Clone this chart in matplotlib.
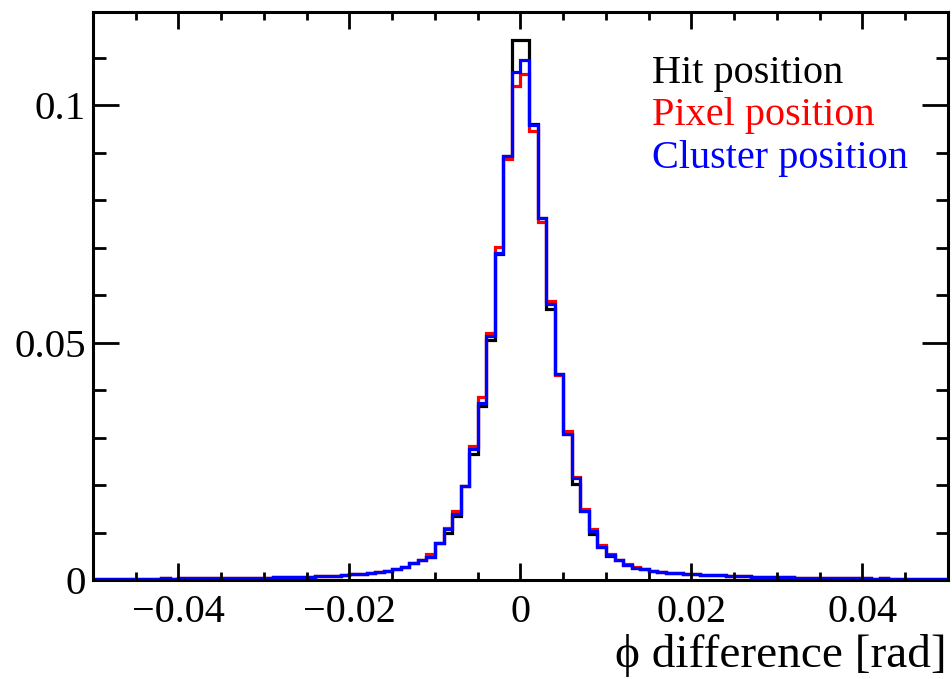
import numpy as np
import matplotlib
matplotlib.use("Agg")
import matplotlib.pyplot as plt
from matplotlib.ticker import MultipleLocator, FixedLocator

# Bin edges: 100 bins of width 0.001 from -0.05 to 0.05
bin_edges = np.round(np.linspace(-0.05, 0.05, 101), 4)

# Values per bin (left tail k=-50..-21, core k=-20..20, right tail k=21..49)
left_tail = [0.0002, 0.0003, 0.0003, 0.0003, 0.0003, 0.0003, 0.0003, 0.0003, 0.0004, 0.0003,
             0.0004, 0.0004, 0.0004, 0.0004, 0.0005, 0.0004, 0.0005, 0.0005, 0.0005, 0.0005,
             0.0005, 0.0006, 0.0006, 0.0006, 0.0007, 0.0007, 0.0008, 0.0008, 0.0009, 0.0010]
right_tail = [0.0011, 0.0010, 0.0010, 0.0009, 0.0008, 0.0008, 0.0007, 0.0007, 0.0006, 0.0006,
              0.0006, 0.0005, 0.0005, 0.0005, 0.0005, 0.0004, 0.0004, 0.0004, 0.0004, 0.0004,
              0.0003, 0.0004, 0.0003, 0.0003, 0.0003, 0.0003, 0.0003, 0.0003, 0.0003]

hit_core = [0.0012, 0.0013, 0.0015, 0.0017, 0.0020, 0.0024, 0.0028, 0.0035, 0.0042, 0.0049,
            0.0077, 0.0100, 0.0135, 0.0198, 0.0265, 0.0367, 0.0506, 0.0687, 0.0894, 0.1139,
            0.1139, 0.0960, 0.0763, 0.0571, 0.0434, 0.0307, 0.0203, 0.0146, 0.0096, 0.0069,
            0.0051, 0.0042, 0.0032, 0.0026, 0.0023, 0.0019, 0.0017, 0.0015, 0.0014, 0.0013,
            0.0012]
pixel_core = [0.0012, 0.0013, 0.0015, 0.0017, 0.0020, 0.0024, 0.0028, 0.0036, 0.0043, 0.0054,
              0.0078, 0.0110, 0.0146, 0.0198, 0.0283, 0.0385, 0.0520, 0.0701, 0.0888, 0.1042,
              0.1067, 0.0947, 0.0755, 0.0589, 0.0432, 0.0313, 0.0217, 0.0149, 0.0107, 0.0074,
              0.0055, 0.0043, 0.0033, 0.0027, 0.0023, 0.0019, 0.0017, 0.0015, 0.0014, 0.0013,
              0.0012]
cluster_core = [0.0012, 0.0013, 0.0015, 0.0017, 0.0020, 0.0024, 0.0028, 0.0035, 0.0042, 0.0049,
                0.0077, 0.0107, 0.0140, 0.0198, 0.0276, 0.0374, 0.0515, 0.0690, 0.0894, 0.1070,
                0.1095, 0.0958, 0.0763, 0.0582, 0.0434, 0.0307, 0.0214, 0.0146, 0.0103, 0.0069,
                0.0052, 0.0042, 0.0032, 0.0026, 0.0023, 0.0019, 0.0017, 0.0015, 0.0014, 0.0013,
                0.0012]

hit_values = left_tail + hit_core + right_tail
pixel_values = left_tail + pixel_core + right_tail
cluster_values = left_tail + cluster_core + right_tail

series_labels = ["Hit position", "Pixel position", "Cluster position"]
series_colors = ["black", "#ff0000", "#0000ff"]
x_label = "\u03d5 difference [rad]"

serif = ["Liberation Serif", "DejaVu Serif"]
plt.rcParams["font.family"] = serif
plt.rcParams["mathtext.fontset"] = "stix"

fig = plt.figure(figsize=(9.53, 6.79), dpi=100)
ax = fig.add_axes([93 / 953, 1 - 580 / 679, (948 - 93) / 953, (580 - 12) / 679])

for vals, col in zip([hit_values, pixel_values, cluster_values], series_colors):
    ax.stairs(vals, bin_edges, color=col, linewidth=2.3, baseline=None)

ax.set_xlim(-0.05, 0.05)
ax.set_ylim(0, 0.1197)

ax.xaxis.set_major_locator(FixedLocator([-0.04, -0.02, 0.0, 0.02, 0.04]))
ax.xaxis.set_minor_locator(MultipleLocator(0.005))
ax.yaxis.set_major_locator(FixedLocator([0.0, 0.05, 0.1]))
ax.yaxis.set_minor_locator(MultipleLocator(0.01))

ax.set_xticklabels(["\u22120.04", "\u22120.02", "0", "0.02", "0.04"])
ax.set_yticklabels(["0", "0.05", "0.1"])

ax.tick_params(axis="x", which="major", direction="in", length=12, width=2,
               top=True, bottom=True, labelsize=29, pad=10)
ax.tick_params(axis="x", which="minor", direction="in", length=6, width=2,
               top=True, bottom=True)
ax.tick_params(axis="y", which="major", direction="in", length=19, width=2,
               left=True, right=True, labelsize=29.5, pad=5)
ax.tick_params(axis="y", which="minor", direction="in", length=9, width=2,
               left=True, right=True)
for sp in ax.spines.values():
    sp.set_linewidth(2.2)

fig.text(947 / 953, 1 - 667 / 679, x_label, ha="right", va="baseline", fontsize=34,
         family=serif)

legend_baselines = [83, 125, 168]
for lab, col, yb in zip(series_labels, series_colors, legend_baselines):
    fig.text(652 / 953, 1 - yb / 679, lab, color=col, ha="left", va="baseline",
             fontsize=29, family=serif)

fig.savefig("out.png", dpi=100)
